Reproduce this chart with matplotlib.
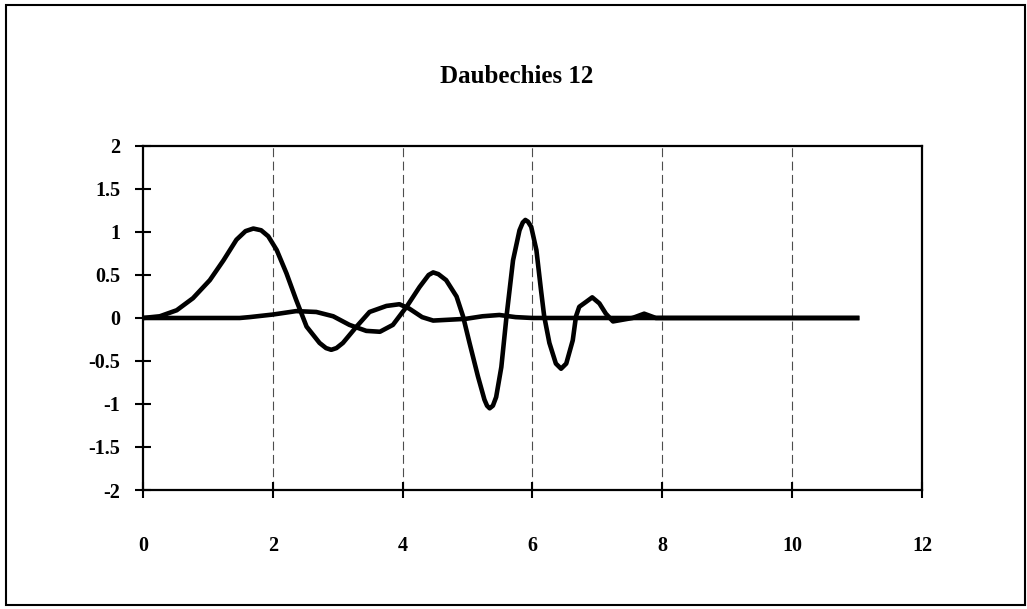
import matplotlib
matplotlib.use("Agg")
import matplotlib.pyplot as plt
from matplotlib.patches import Rectangle

# scaling function (phi)
phi_x = [0.0, 0.26, 0.52, 0.77, 1.03, 1.24, 1.44, 1.58, 1.70, 1.82, 1.93, 2.06, 2.21, 2.36,
         2.52, 2.72, 2.82, 2.90, 2.98, 3.08, 3.29, 3.49, 3.75, 3.95, 4.1, 4.3, 4.47, 4.72, 4.97, 5.23,
         5.49, 5.74, 6.0, 6.5, 7.0, 8.0, 9.0, 10.0, 11.0]
phi_y = [0.0, 0.02, 0.09, 0.23, 0.44, 0.67, 0.91, 1.01, 1.04, 1.02, 0.95, 0.79, 0.52, 0.21,
         -0.10, -0.29, -0.35, -0.37, -0.35, -0.29, -0.10, 0.07, 0.14, 0.16, 0.11, 0.01, -0.03, -0.02,
         -0.01, 0.02, 0.035, 0.01, 0.0, 0.0, 0.0, 0.0, 0.0, 0.0, 0.0]

# wavelet (psi)
psi_x = [0.0, 0.47, 0.98, 1.49, 1.64, 2.0, 2.36, 2.67, 2.93, 3.18, 3.44, 3.65, 3.85, 4.06,
         4.26, 4.40, 4.47, 4.55, 4.67, 4.83, 4.93, 5.03, 5.16, 5.26, 5.30, 5.34, 5.39, 5.44, 5.52,
         5.60, 5.70, 5.80, 5.85, 5.89, 5.93, 5.98, 6.06, 6.13, 6.18, 6.26, 6.36, 6.44, 6.52, 6.62,
         6.67, 6.72, 6.83, 6.92, 7.03, 7.13, 7.24, 7.39, 7.54, 7.72, 7.90, 9.0, 10.0, 11.0]
psi_y = [0.0, 0.0, 0.0, 0.0, 0.01, 0.04, 0.08, 0.07, 0.02, -0.08, -0.15, -0.16, -0.08, 0.13,
         0.36, 0.50, 0.53, 0.51, 0.44, 0.25, 0.02, -0.29, -0.68, -0.95, -1.02, -1.05, -1.02, -0.92,
         -0.57, 0.02, 0.67, 1.02, 1.11, 1.14, 1.12, 1.06, 0.79, 0.33, 0.02, -0.29, -0.53, -0.59,
         -0.53, -0.26, 0.02, 0.13, 0.19, 0.24, 0.17, 0.05, -0.04, -0.02, 0.0, 0.05, 0.0, 0.0, 0.0, 0.0]

x_ticks = [0, 2, 4, 6, 8, 10, 12]
y_ticks = [-2, -1.5, -1, -0.5, 0, 0.5, 1, 1.5, 2]
y_labels = ['-2', '-1.5', '-1', '-0.5', '0', '0.5', '1', '1.5', '2']

plt.rcParams['font.family'] = 'Liberation Serif'
plt.rcParams['font.weight'] = 'bold'

fig = plt.figure(figsize=(10.27, 6.09), dpi=100)
ax = fig.add_axes([0.1392, 0.1954, 0.7586, 0.5649])

for g in x_ticks[1:-1]:
    ax.axvline(g, color='0.3', lw=0.8, linestyle=(0, (8, 4)), zorder=1)

ax.plot(phi_x, phi_y, color='black', lw=3.3, solid_joinstyle='round', zorder=3)
ax.plot(psi_x, psi_y, color='black', lw=3.3, solid_joinstyle='round', zorder=3)

ax.set_xlim(0, 12)
ax.set_ylim(-2, 2)
ax.set_xticks(x_ticks)
ax.set_xticklabels([str(t) for t in x_ticks])
ax.set_yticks(y_ticks)
ax.set_yticklabels(y_labels)
ax.tick_params(axis='both', direction='inout', width=1.5, labelsize=14.5)
ax.tick_params(axis='y', length=11, pad=11)
ax.tick_params(axis='x', length=12, pad=27)
for s in ax.spines.values():
    s.set_linewidth(1.6)

fig.text(0.503, 0.875, 'Daubechies 12', ha='center', va='center', fontsize=18, fontweight='bold')

# outer frame round the whole chart
fig.patches.append(Rectangle((0.006, 0.0066), 0.992, 0.985, transform=fig.transFigure,
                             fill=False, edgecolor='black', lw=1.5))

fig.savefig('out.png', dpi=100)
